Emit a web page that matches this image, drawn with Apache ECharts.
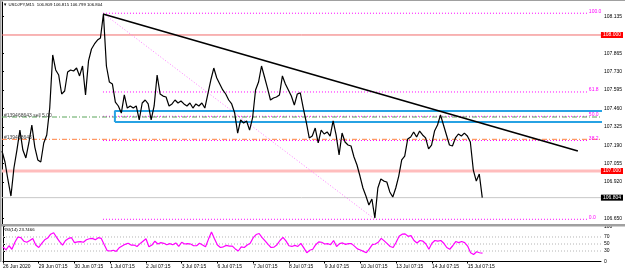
<!DOCTYPE html>
<html>
<head>
<meta charset="utf-8">
<script src="https://cdn.jsdelivr.net/npm/echarts@6/dist/echarts.min.js"></script>
<style>
html, body { margin: 0; padding: 0; background: #fff; }
#chart { width: 625px; height: 271px; }
</style>
</head>
<body>
<div id="chart"></div>
<script>
// USDJPY M15 with RSI(14) - MT4 style screenshot

// time: trading hours since the first bar, one close every 2 hours
const STEP_HOURS = 2;
const timeLabelHours = [0, 24, 48, 72, 96, 120, 144, 168, 192, 216, 240, 264, 288, 312];
const timeLabels = ['26 Jun 2020', '29 Jun 07:15', '30 Jun 07:15', '1 Jul 07:15', '2 Jul 07:15',
    '3 Jul 07:15', '6 Jul 07:15', '7 Jul 07:15', '8 Jul 07:15', '9 Jul 07:15',
    '10 Jul 07:15', '13 Jul 07:15', '14 Jul 07:15', '15 Jul 07:15'];

const closes = [
    107.147, 107.066, 106.934, 106.816, 107.022, 107.154, 107.301, 107.154, 107.096, 107.206,
    107.338, 107.176, 107.081, 107.066, 107.206, 107.265, 107.463, 107.853, 107.743, 107.706,
    107.566, 107.588, 107.728, 107.743, 107.735, 107.757, 107.699, 107.772, 107.559, 107.809,
    107.897, 107.934, 107.963, 107.978, 108.154, 107.772, 107.654, 107.640, 107.507, 107.478,
    107.426, 107.559, 107.463, 107.478, 107.463, 107.478, 107.375, 107.500, 107.522, 107.493,
    107.375, 107.478, 107.706, 107.566, 107.551, 107.544, 107.478, 107.493, 107.522, 107.500,
    107.515, 107.493, 107.478, 107.500, 107.463, 107.493, 107.478, 107.500, 107.463, 107.566,
    107.669, 107.757, 107.684, 107.640, 107.596, 107.566, 107.522, 107.493, 107.426, 107.279,
    107.375, 107.353, 107.368, 107.301, 107.390, 107.596, 107.654, 107.772, 107.691, 107.610,
    107.522, 107.537, 107.544, 107.559, 107.699, 107.640, 107.596, 107.551, 107.485, 107.566,
    107.574, 107.463, 107.360, 107.243, 107.257, 107.316, 107.206, 107.301, 107.272, 107.287,
    107.257, 107.368, 107.265, 107.118, 107.279, 107.213, 107.191, 107.184, 107.103, 107.044,
    106.963, 106.875, 106.816, 106.750, 106.794, 106.654, 106.875, 106.941, 106.926, 106.919,
    106.846, 106.809, 106.875, 106.963, 107.081, 107.110, 107.235, 107.250, 107.287, 107.250,
    107.294, 107.265, 107.243, 107.162, 107.191, 107.294, 107.338, 107.412, 107.338, 107.265,
    107.191, 107.184, 107.243, 107.272, 107.257, 107.279, 107.257, 107.213, 107.007, 106.926,
    106.978, 106.804
];

const rsiValues = [
    42, 33, 45, 35, 55, 70, 68, 58, 55, 60,
    66, 47, 40, 52, 62, 67, 78, 82, 69, 57,
    47, 60, 66, 68, 54, 56, 57, 55, 62, 65,
    66, 62, 68, 66, 48, 31, 30, 32, 29, 39,
    44, 49, 52, 47, 47, 43, 51, 58, 65, 42,
    47, 58, 50, 54, 52, 48, 51, 48, 53, 43,
    55, 50, 51, 50, 45, 45, 52, 47, 42, 64,
    84, 65, 47, 40, 42, 46, 44, 44, 36, 30,
    42, 40, 47, 52, 68, 77, 80, 68, 59, 49,
    40, 41, 48, 60, 69, 59, 45, 43, 46, 43,
    52, 39, 25, 32, 35, 48, 56, 55, 50, 51,
    48, 60, 43, 51, 53, 49, 51, 51, 44, 36,
    33, 29, 25, 36, 48, 50, 55, 66, 59, 51,
    43, 40, 55, 72, 78, 79, 72, 74, 60, 53,
    60, 58, 50, 35, 52, 60, 58, 60, 52, 40,
    35, 45, 57, 54, 57, 54, 44, 25, 20, 28,
    25, 23.7466
];

// axis ticks
const priceTicks = [106.650, 106.920, 107.055, 107.190, 107.325, 107.460, 107.595, 107.730, 107.865, 108.135];
const rsiTicks = [0, 30, 50, 70, 100];
const rsiLevels = [30, 50, 70];

// price lines on the chart
const roundLevels = [108.000, 107.000];
const lastPrice = 106.804;
const quote = [106.809, 106.815, 106.799, 106.804];

// fibonacci retracement
const fiboLabels = ['100.0', '61.8', '50.0', '38.2', '0.0'];
const fiboPrices = [108.160, 107.581, 107.402, 107.224, 106.645];
const fiboHours = [67.7, 392.8];
const fiboDiagHours = [67.7, 250.0];
const fiboDiagPrices = [108.160, 106.645];

// trend line
const trendHours = [67.7, 386.1];
const trendPrices = [108.154, 107.147];

// rectangle
const boxHours = [75.7, 403.6];
const boxPrices = [107.360, 107.441];

// order lines
const orderPrices = [107.397, 107.233];
const orderLabels = ['#139468643 sell 5.00', '#139468643'];

// axis extents (match the screenshot's scale)
const X_MAX = 401.56;
const PRICE_MIN = 106.6103, PRICE_MAX = 108.2426;
const RSI_MIN = -1.4, RSI_MAX = 101.4;

const FONT = 'Liberation Sans, Arial, sans-serif';
const levelStyles = [{ color: '#f26b6b', width: 1 }, { color: '#ffbdbd', width: 3 }];
const orderColors = ['#5aa55a', '#ff7f3f'];

const chart = echarts.init(document.getElementById('chart'));

function hLine(p, fromH, toH) {
    return [[fromH, p], [toH, p]];
}

const series = [];

// round number levels with red price boxes
roundLevels.forEach((p, i) => {
    series.push({
        type: 'line', xAxisIndex: 0, yAxisIndex: 0, silent: true, showSymbol: false,
        data: hLine(p, 0, X_MAX),
        lineStyle: levelStyles[i], z: 2,
        endLabel: {
            show: true, formatter: p.toFixed(3), distance: 0,
            backgroundColor: '#ff0000', color: '#fff', fontSize: 5, padding: [1, 2, 0, 2],
            fontFamily: FONT
        }
    });
});

// bid line
series.push({
    type: 'line', xAxisIndex: 0, yAxisIndex: 0, silent: true, showSymbol: false,
    data: hLine(lastPrice, 0, X_MAX),
    lineStyle: { color: '#c8c8c8', width: 1 }, z: 2,
    endLabel: {
        show: true, formatter: lastPrice.toFixed(3), distance: 0,
        backgroundColor: '#000', color: '#fff', fontSize: 5, padding: [1, 2, 0, 2],
        fontFamily: FONT
    }
});

// fibo levels
fiboPrices.forEach((p, i) => {
    series.push({
        type: 'line', xAxisIndex: 0, yAxisIndex: 0, silent: true, showSymbol: false,
        data: hLine(p, fiboHours[0], fiboHours[1]),
        lineStyle: { color: '#ff00ff', width: 1, type: [1, 2] }, z: 3,
        endLabel: {
            show: true, formatter: fiboLabels[i], distance: 1, offset: [0, -2],
            color: '#ff00ff', fontSize: 5, fontFamily: FONT
        }
    });
});
series.push({
    type: 'line', xAxisIndex: 0, yAxisIndex: 0, silent: true, showSymbol: false,
    data: fiboDiagHours.map((h, i) => [h, fiboDiagPrices[i]]),
    lineStyle: { color: '#ff7dff', width: 1, type: [1, 2] }, z: 3
});

// order lines
orderPrices.forEach((p, i) => {
    series.push({
        type: 'line', xAxisIndex: 0, yAxisIndex: 0, silent: true,
        symbol: 'circle', symbolSize: 0, showSymbol: true,
        data: [
            { value: [0, p], label: { show: true, formatter: orderLabels[i], position: 'top', align: 'left', offset: [2, 1], distance: 0, color: '#444', fontSize: 5, fontFamily: FONT } },
            [X_MAX, p]
        ],
        lineStyle: { color: orderColors[i], width: 1, type: [5, 2, 1, 2] }, z: 3
    });
});

// rectangle
series.push({
    type: 'line', xAxisIndex: 0, yAxisIndex: 0, silent: true, showSymbol: false, clip: false,
    data: [
        [boxHours[0], boxPrices[0]], [boxHours[1], boxPrices[0]],
        [boxHours[1], boxPrices[1]], [boxHours[0], boxPrices[1]],
        [boxHours[0], boxPrices[0]]
    ],
    lineStyle: { color: '#27a2e3', width: 2 }, z: 4
});

// price
series.push({
    type: 'line', xAxisIndex: 0, yAxisIndex: 0, silent: true, showSymbol: false,
    data: closes.map((p, i) => [i * STEP_HOURS, p]),
    lineStyle: { color: '#000', width: 1.2 }, z: 5
});

// trend line
series.push({
    type: 'line', xAxisIndex: 0, yAxisIndex: 0, silent: true, showSymbol: false,
    data: trendHours.map((h, i) => [h, trendPrices[i]]),
    lineStyle: { color: '#000', width: 1.7 }, z: 6
});

// rsi levels
rsiLevels.forEach(v => {
    series.push({
        type: 'line', xAxisIndex: 1, yAxisIndex: 1, silent: true, showSymbol: false,
        data: hLine(v, 0, X_MAX),
        lineStyle: { color: '#b4b4b4', width: 1, type: [1, 2] }, z: 2
    });
});

// rsi
series.push({
    type: 'line', xAxisIndex: 1, yAxisIndex: 1, silent: true, showSymbol: false,
    data: rsiValues.map((v, i) => [i * STEP_HOURS, v]),
    lineStyle: { color: '#ff00ff', width: 1.2 }, z: 5
});

const axisText = { color: '#000', fontSize: 5, fontFamily: FONT };

const option = {
    animation: false,
    backgroundColor: '#fff',
    textStyle: { fontFamily: FONT },
    grid: [
        { left: 2, top: 2, width: 599, height: 222 },
        { left: 2, top: 226, width: 599, height: 36 }
    ],
    xAxis: [
        { gridIndex: 0, type: 'value', min: 0, max: X_MAX, show: false },
        {
            gridIndex: 1, type: 'value', min: 0, max: X_MAX,
            axisLine: { show: true, lineStyle: { color: '#000', width: 1 } },
            axisTick: { show: true, customValues: timeLabelHours, length: 2, lineStyle: { color: '#000' } },
            axisLabel: {
                ...axisText, customValues: timeLabelHours, align: 'left', margin: 2,
                formatter: v => timeLabels[timeLabelHours.indexOf(v)] || ''
            },
            splitLine: { show: false }
        }
    ],
    yAxis: [
        {
            gridIndex: 0, type: 'value', position: 'right', min: PRICE_MIN, max: PRICE_MAX,
            axisLine: { show: true, lineStyle: { color: '#000', width: 1 } },
            axisTick: { show: true, customValues: priceTicks, length: 2, lineStyle: { color: '#000' } },
            axisLabel: { ...axisText, customValues: priceTicks, margin: 3, formatter: v => v.toFixed(3) },
            splitLine: { show: false }
        },
        {
            gridIndex: 1, type: 'value', position: 'right', min: RSI_MIN, max: RSI_MAX,
            axisLine: { show: true, lineStyle: { color: '#000', width: 1 } },
            axisTick: { show: true, customValues: rsiTicks, length: 2, lineStyle: { color: '#000' } },
            axisLabel: { ...axisText, customValues: rsiTicks, margin: 3, formatter: v => String(v) },
            splitLine: { show: false }
        }
    ],
    graphic: [
        // window frame and panel separator
        { type: 'rect', shape: { x: 0, y: 0, width: 625, height: 1 }, style: { fill: '#a0a0a0' }, silent: true },
        { type: 'rect', shape: { x: 0, y: 0, width: 1.5, height: 262 }, style: { fill: '#a0a0a0' }, silent: true },
        { type: 'rect', shape: { x: 0, y: 224, width: 625, height: 2.5 }, style: { fill: '#a0a0a0' }, silent: true, z: 10 },
        {
            type: 'text', left: 3, top: 3, silent: true,
            style: { text: '\u25BC USDJPY,M15  ' + quote.map(q => q.toFixed(3)).join(' '), fill: '#000', fontSize: 4.3, fontFamily: FONT }
        },
        {
            type: 'text', left: 3, top: 228, silent: true,
            style: { text: 'RSI(14) ' + rsiValues[rsiValues.length - 1].toFixed(4), fill: '#000', fontSize: 4.3, fontFamily: FONT }
        }
    ],
    series: series
};

chart.setOption(option);
</script>
</body>
</html>
